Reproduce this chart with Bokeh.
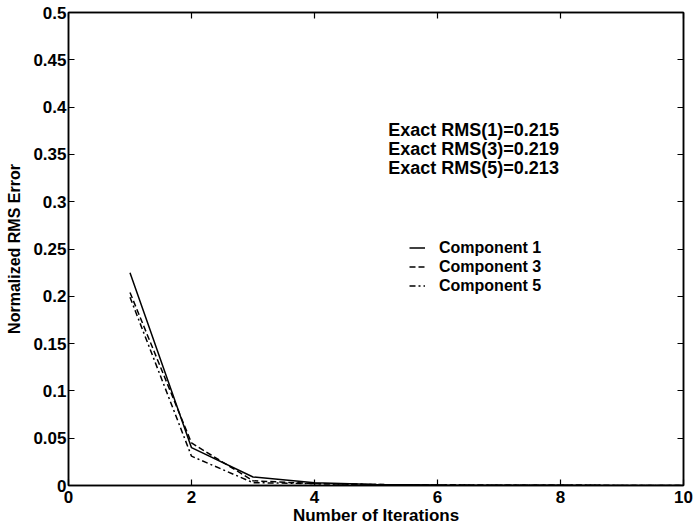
from bokeh.plotting import figure
from bokeh.models import LinearAxis, Legend, LegendItem, Range1d, FixedTicker, Label
from bokeh.embed import file_html
from bokeh.resources import INLINE

# data
iterations = [1, 2, 3, 4, 5, 6, 7, 8, 9, 10]
comp1 = [0.225, 0.040, 0.009, 0.003, 0.001, 0.0005, 0.0003, 0.0002, 0.0001, 0.0001]
comp3 = [0.204, 0.045, 0.005, 0.002, 0.001, 0.0005, 0.0003, 0.0002, 0.0001, 0.0001]
comp5 = [0.199, 0.031, 0.003, 0.002, 0.001, 0.0005, 0.0003, 0.0002, 0.0001, 0.0001]
x_ticks = [0, 2, 4, 6, 8, 10]
y_ticks = [0, 0.05, 0.1, 0.15, 0.2, 0.25, 0.3, 0.35, 0.4, 0.45, 0.5]
y_tick_labels = ["0", "0.05", "0.1", "0.15", "0.2", "0.25", "0.3", "0.35", "0.4", "0.45", "0.5"]
annotations = ["Exact RMS(1)=0.215", "Exact RMS(3)=0.219", "Exact RMS(5)=0.213"]
legend_labels = ["Component 1", "Component 3", "Component 5"]
x_label = "Number of Iterations"
y_label = "Normalized RMS Error"

FONT = "Liberation Sans"

p = figure(width=693, height=530, output_backend="svg", toolbar_location=None,
           x_range=Range1d(0, 10), y_range=Range1d(0, 0.5),
           min_border_left=68, min_border_right=10, min_border_top=12, min_border_bottom=45)
p.grid.visible = False
p.outline_line_color = "black"
p.outline_line_width = 1.5
p.background_fill_color = "white"
p.border_fill_color = "white"

l1 = p.line(iterations, comp1, line_color="black", line_width=1.5)
l3 = p.line(iterations, comp3, line_color="black", line_width=1.5, line_dash="6 3")
l5 = p.line(iterations, comp5, line_color="black", line_width=1.5, line_dash="6 3 2 3")

def style_axis(ax):
    ax.axis_line_color = "black"
    ax.axis_line_width = 1.5
    ax.major_tick_in = 6
    ax.major_tick_out = 0
    ax.major_tick_line_width = 1.2
    ax.minor_tick_line_color = None
    ax.major_label_text_font = FONT
    ax.major_label_text_font_style = "bold"
    ax.major_label_text_font_size = "17px"
    ax.major_label_text_color = "black"
    ax.axis_label_text_font = FONT
    ax.axis_label_text_font_style = "bold"
    ax.axis_label_text_font_size = "16px"
    ax.axis_label_text_color = "black"

xa = p.xaxis[0]
ya = p.yaxis[0]
xa.ticker = FixedTicker(ticks=x_ticks)
ya.ticker = FixedTicker(ticks=y_ticks)
ya.major_label_overrides = {t: s for t, s in zip(y_ticks, y_tick_labels)}
style_axis(xa)
style_axis(ya)
xa.axis_label = x_label
ya.axis_label = y_label
xa.axis_label_text_font_size = "17px"
xa.major_label_standoff = 5
ya.major_label_standoff = 2
xa.axis_label_standoff = 0
ya.axis_label_standoff = 7

top = LinearAxis(ticker=FixedTicker(ticks=x_ticks))
right = LinearAxis(ticker=FixedTicker(ticks=y_ticks))
style_axis(top)
style_axis(right)
top.major_label_overrides = {t: "" for t in x_ticks}
right.major_label_overrides = {t: "" for t in y_ticks}
top.major_label_standoff = 0
right.major_label_standoff = 0
p.add_layout(top, "above")
p.add_layout(right, "right")

for i, t in enumerate(annotations):
    p.add_layout(Label(x=5.2, y=0.376 - 0.02 * i, text=t, text_font=FONT, text_font_style="bold",
                       text_font_size="18px", text_color="black", text_baseline="middle"))

legend = Legend(items=[LegendItem(label=legend_labels[0], renderers=[l1]),
                       LegendItem(label=legend_labels[1], renderers=[l3]),
                       LegendItem(label=legend_labels[2], renderers=[l5])],
                location=(341, 190), padding=0, spacing=0, margin=0,
                label_height=19, glyph_height=19, glyph_width=16, label_standoff=14,
                label_text_font=FONT, label_text_font_style="bold", label_text_font_size="16px",
                label_text_color="black",
                border_line_color=None, background_fill_alpha=0)
p.add_layout(legend, "center")

open("out.html", "w").write(file_html(p, INLINE))
